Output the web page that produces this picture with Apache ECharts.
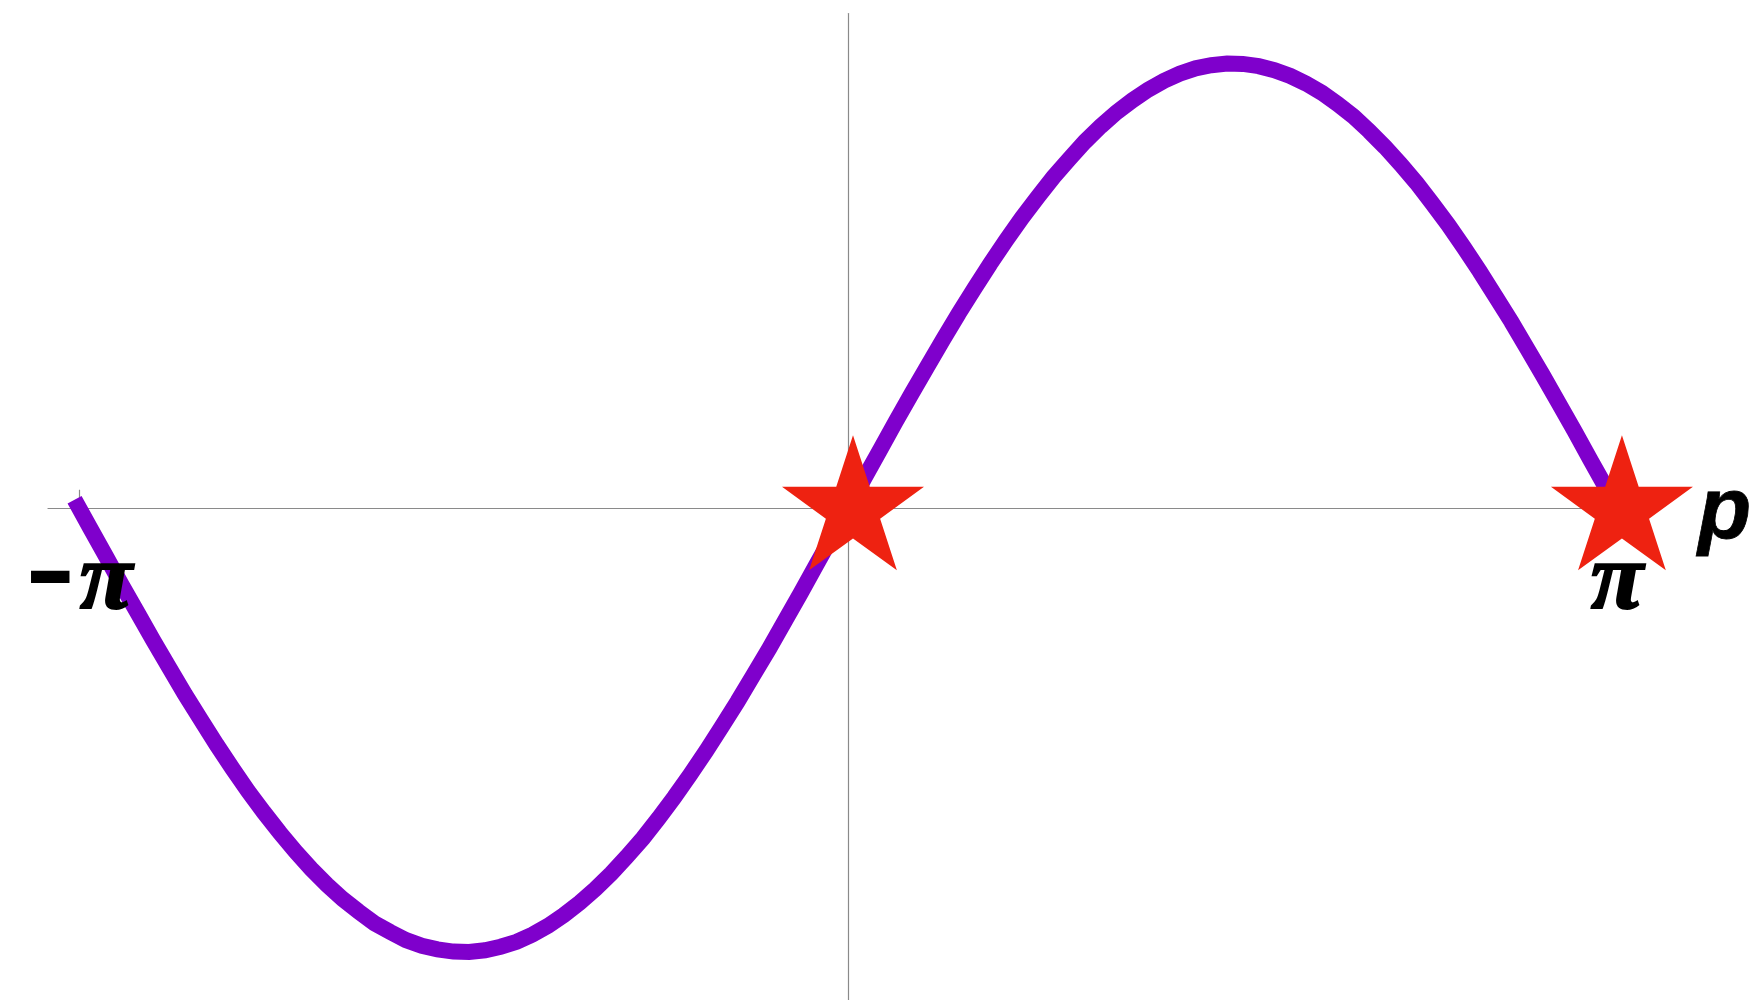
<!DOCTYPE html>
<html>
<head>
<meta charset="utf-8">
<script src="https://cdn.jsdelivr.net/npm/echarts@6/dist/echarts.min.js"></script>
<style>
  html, body { margin: 0; padding: 0; background: #ffffff; }
  #chart { width: 1757px; height: 1000px; }
</style>
</head>
<body>
<div id="chart"></div>
<script>
// Sampled curve y = sin(p)
const curveX = [
  -3.160, -3.096, -3.031, -2.967, -2.902, -2.838, -2.773, -2.709, -2.644, -2.580,
  -2.515, -2.451, -2.386, -2.322, -2.257, -2.193, -2.128, -2.064, -1.999, -1.935,
  -1.870, -1.806, -1.741, -1.677, -1.612, -1.548, -1.483, -1.419, -1.354, -1.290,
  -1.225, -1.161, -1.096, -1.032, -0.967, -0.903, -0.838, -0.774, -0.709, -0.645,
  -0.580, -0.516, -0.451, -0.387, -0.322, -0.258, -0.193, -0.129, -0.064,  0.001,
   0.065,  0.130,  0.194,  0.259,  0.323,  0.388,  0.452,  0.517,  0.581,  0.646,
   0.710,  0.775,  0.839,  0.904,  0.968,  1.033,  1.097,  1.162,  1.226,  1.291,
   1.355,  1.420,  1.484,  1.549,  1.613,  1.678,  1.742,  1.807,  1.871,  1.936,
   2.000,  2.065,  2.129,  2.194,  2.258,  2.323,  2.387,  2.452,  2.516,  2.581,
   2.645,  2.710,  2.774,  2.839,  2.903,  2.968,  3.032,  3.097,  3.161
];
const curveY = [
   0.018, -0.046, -0.110, -0.174, -0.237, -0.299, -0.360, -0.420, -0.477, -0.533,
  -0.587, -0.638, -0.686, -0.731, -0.774, -0.813, -0.849, -0.881, -0.909, -0.935,
  -0.955, -0.973, -0.986, -0.994, -0.999, -1.000, -0.996, -0.988, -0.977, -0.961,
  -0.941, -0.917, -0.889, -0.858, -0.823, -0.785, -0.744, -0.699, -0.651, -0.601,
  -0.548, -0.493, -0.436, -0.377, -0.317, -0.255, -0.192, -0.128, -0.064,  0.000,
   0.065,  0.129,  0.193,  0.256,  0.317,  0.378,  0.437,  0.494,  0.549,  0.602,
   0.652,  0.699,  0.744,  0.785,  0.824,  0.859,  0.890,  0.917,  0.941,  0.961,
   0.977,  0.989,  0.996,  1.000,  0.999,  0.994,  0.985,  0.972,  0.955,  0.934,
   0.909,  0.881,  0.848,  0.812,  0.773,  0.731,  0.685,  0.637,  0.586,  0.532,
   0.476,  0.419,  0.359,  0.298,  0.236,  0.173,  0.109,  0.045, -0.019
];

// Zeros of the curve marked with stars
const starX = [0, Math.PI];
const starY = [0, 0];

// Axis ticks and labels
const tickValues = [-Math.PI, Math.PI];
const tickLabels = ['–π', 'π'];
const axisName = 'p';

// Five-pointed star outline used as the marker symbol
function starPath() {
  const pts = [];
  for (let i = 0; i < 10; i++) {
    const r = i % 2 === 0 ? 1 : 0.381966;
    const a = -Math.PI / 2 + i * Math.PI / 5;
    pts.push((r * Math.cos(a)).toFixed(5) + ' ' + (r * Math.sin(a)).toFixed(5));
  }
  return 'path://M' + pts.join(' L') + ' Z';
}

// Split a tick label into a sign part and a symbol part for rich text
function richLabel(s) {
  return s.charAt(0) === '–' ? '{m|–}{p|' + s.slice(1) + '}' : '{p|' + s + '}';
}

const chart = echarts.init(document.getElementById('chart'), null, { renderer: 'canvas' });

const axisGray = { color: '#8a8a8a', width: 1.2 };

chart.setOption({
  animation: false,
  backgroundColor: '#ffffff',
  grid: {
    left: 48,
    top: 13.5,
    width: 1600,
    height: 988.5,
    containLabel: false,
    outerBoundsMode: 'none'
  },
  xAxis: {
    type: 'value',
    min: -3.2685,
    max: 3.2685,
    axisLine: { show: true, onZero: true, lineStyle: axisGray },
    axisTick: {
      show: true,
      inside: true,
      length: 18,
      customValues: tickValues,
      lineStyle: axisGray
    },
    axisLabel: { show: false },
    splitLine: { show: false },
    name: axisName,
    nameLocation: 'end',
    nameGap: 50,
    nameTextStyle: {
      fontFamily: '"Liberation Sans", Arial, sans-serif',
      fontWeight: 'bold',
      fontStyle: 'italic',
      fontSize: 87,
      color: '#000000',
      align: 'left',
      verticalAlign: 'top',
      lineHeight: 12,
      textBorderColor: '#000000',
      textBorderWidth: 0.8
    }
  },
  yAxis: {
    type: 'value',
    min: -1.1125,
    max: 1.1125,
    axisLine: { show: true, onZero: true, lineStyle: axisGray },
    axisTick: { show: false },
    axisLabel: { show: false },
    splitLine: { show: false }
  },
  series: [
    {
      type: 'line',
      data: curveX.map((x, i) => [x, curveY[i]]),
      showSymbol: false,
      symbol: 'none',
      lineStyle: { color: '#7F00CC', width: 16, cap: 'butt', join: 'miter' },
      z: 3
    },
    {
      // tick labels under the horizontal axis
      type: 'scatter',
      data: tickValues.map((x, i) => ({ value: [x, 0], label: { formatter: richLabel(tickLabels[i]) } })),
      symbol: 'circle',
      symbolSize: 0,
      silent: true,
      itemStyle: { opacity: 1, color: '#000000' },
      label: {
        show: true,
        position: 'bottom',
        distance: 30,
        opacity: 1,
        color: '#000000',
        rich: {
          m: {
            fontFamily: '"DejaVu Sans", sans-serif',
            fontWeight: 'bold',
            fontSize: 98,
            lineHeight: 64,
            verticalAlign: 'bottom',
            color: '#000000',
            padding: [0, 5, 0, 0]
          },
          p: {
            fontFamily: '"Liberation Serif", serif',
            fontWeight: 'bold',
            fontStyle: 'italic',
            fontSize: 96,
            lineHeight: 90,
            color: '#000000',
            textBorderColor: '#000000',
            textBorderWidth: 2
          }
        }
      },
      z: 4
    },
    {
      type: 'scatter',
      data: starX.map((x, i) => [x, starY[i]]),
      symbol: starPath(),
      symbolSize: [142, 135],
      symbolOffset: [5, -5],
      itemStyle: { color: '#EE2211', opacity: 1 },
      z: 5
    }
  ]
});
</script>
</body>
</html>
